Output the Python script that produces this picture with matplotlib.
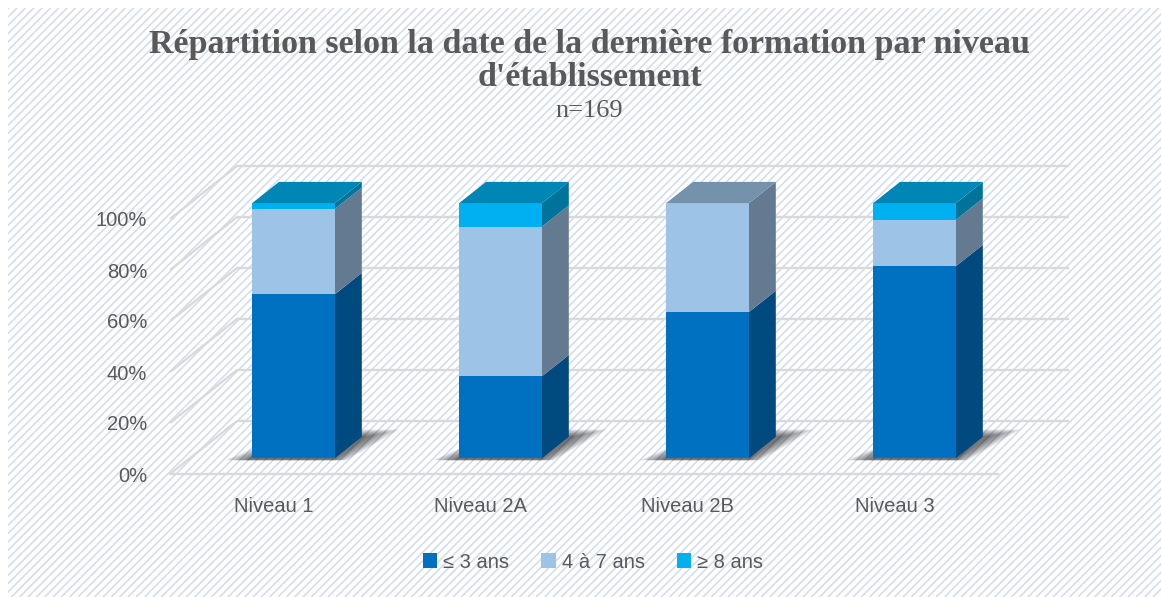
import matplotlib
matplotlib.use("Agg")
import matplotlib.pyplot as plt
from matplotlib.patches import Polygon, Rectangle, Patch

# data (shares per level)
categories = ['Niveau 1', 'Niveau 2A', 'Niveau 2B', 'Niveau 3']
series = ['≤ 3 ans', '4 à 7 ans', '≥ 8 ans']
le3 = [64.3, 32.1, 57.3, 75.3]
de4a7 = [33.5, 58.7, 42.7, 18.2]
ge8 = [2.2, 9.2, 0.0, 6.5]
yticks = [0, 20, 40, 60, 80, 100]

front_cols = ['#0070C0', '#9DC3E6', '#00B0F0']
side_cols = ['#004A80', '#637A91', '#00739B']
top_cols = ['#00599A', '#7592AD', '#0086B4']
grid_col = '#D9D9D9'
text_col = '#595959'
sans = ['Liberation Sans', 'DejaVu Sans']

W, H = 1161, 597
plt.rcParams['hatch.color'] = '#D3DDF2'
plt.rcParams['hatch.linewidth'] = 1.2

fig = plt.figure(figsize=(W / 100, H / 100), dpi=100)
fig.patch.set_facecolor('white')
ax = fig.add_axes([0, 0, 1, 1])
ax.set_xlim(0, W)
ax.set_ylim(H, 0)
ax.axis('off')

# hatched background
ax.add_patch(Rectangle((8, 8), W, H, facecolor='white', edgecolor='#D3DDF2',
                       hatch='////', linewidth=0, zorder=0))

# pseudo 3d projection: category position, value (0-100), depth (0-1)
x0, y0, catw, vscale, dx, dy = 170, 474, 207, 2.55, 67, 53


def proj(c, v, z):
    return (x0 + c * catw + z * dx, y0 - v * vscale - z * dy)


n = len(categories)
# walls / gridlines
for t in yticks:
    a = proj(0, t, 0)
    b = proj(0, t, 1)
    c = proj(n + 0.02, t, 1)
    ax.plot([a[0], b[0], c[0]], [a[1], b[1], c[1]], color=grid_col, lw=1.7,
            solid_capstyle='butt', zorder=1)
    ax.text(a[0] - 23, a[1] + 2, '{}%'.format(t), ha='right', va='center',
            fontsize=14.5, color=text_col, family=sans)
fl = proj(0, 0, 0)
fr = proj(n, 0, 0)
ax.plot([fl[0], fr[0]], [fl[1], fr[1]], color=grid_col, lw=1.7, zorder=1)

for i, name in enumerate(categories):
    p = proj(i + 0.5, 0, 0)
    ax.text(p[0], p[1] + 32, name, ha='center', va='center', fontsize=14.5,
            color=text_col, family=sans)

# bars
bw, z1, z2 = 0.2, 0.3, 0.7
for i in range(n):
    cl, cr = i + 0.5 - bw, i + 0.5 + bw
    # soft shadow on the floor
    for k in range(12):
        e = (1 - k / 12) * 0.12
        shadow = [proj(cl - e, 0, z1 - 0.04),
                  proj(cr + e * 0.6, 0, z1 - 0.04),
                  proj(cr + e + 0.02, 0, z2 + e * 1.2),
                  proj(cl + 0.05, 0, z2 + e * 1.2)]
        ax.add_patch(Polygon(shadow, closed=True, facecolor='black',
                             edgecolor='none', alpha=0.06, zorder=2))
    vals = [le3[i], de4a7[i], ge8[i]]
    base = 0
    top_idx = 0
    for s, v in enumerate(vals):
        if v <= 0:
            continue
        lo, hi = base, base + v
        front = [proj(cl, lo, z1), proj(cr, lo, z1), proj(cr, hi, z1), proj(cl, hi, z1)]
        side = [proj(cr, lo, z1), proj(cr, lo, z2), proj(cr, hi, z2), proj(cr, hi, z1)]
        ax.add_patch(Polygon(front, closed=True, facecolor=front_cols[s],
                             edgecolor='none', zorder=3))
        ax.add_patch(Polygon(side, closed=True, facecolor=side_cols[s],
                             edgecolor='none', zorder=3))
        base = hi
        top_idx = s
    top = [proj(cl, base, z1), proj(cr, base, z1), proj(cr, base, z2), proj(cl, base, z2)]
    ax.add_patch(Polygon(top, closed=True, facecolor=top_cols[top_idx],
                         edgecolor='none', zorder=3))

# titles
ax.text(W / 2 + 9, 45, 'Répartition selon la date de la dernière formation par niveau',
        ha='center', va='center', fontsize=24.5, fontweight='bold', color=text_col,
        family='Liberation Serif')
ax.text(W / 2 + 9, 78, "d'établissement", ha='center', va='center', fontsize=24.5,
        fontweight='bold', color=text_col, family='Liberation Serif')
ax.text(W / 2 + 9, 111, 'n=169', ha='center', va='center', fontsize=19,
        color=text_col, family='Liberation Serif')

handles = [Patch(facecolor=c, edgecolor='none', label=l) for c, l in zip(front_cols, series)]
leg = fig.legend(handles=handles, loc='center', bbox_to_anchor=(593 / W, 1 - 562 / H),
                 ncol=3, frameon=False, handlelength=0.7, handleheight=0.7,
                 handletextpad=0.3, columnspacing=1.6,
                 prop={'family': sans, 'size': 14.5})
for t in leg.get_texts():
    t.set_color(text_col)

fig.savefig('out.png', dpi=100)
